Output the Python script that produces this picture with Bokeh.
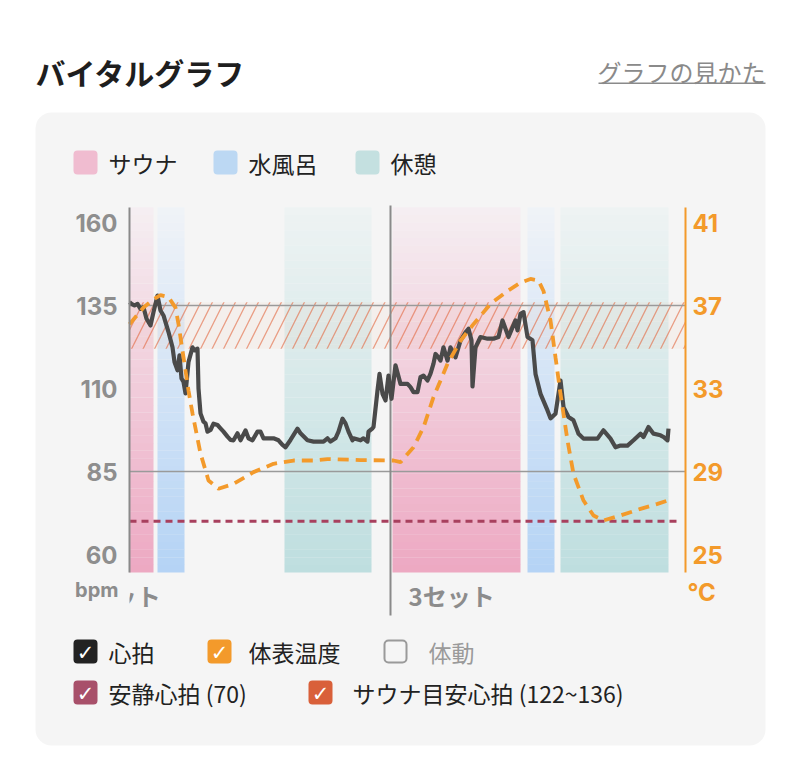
from bokeh.plotting import figure
from bokeh.models import Range1d, LinearAxis, FixedTicker
from bokeh.core.properties import value
from bokeh.embed import file_html
from bokeh.resources import INLINE

# ---------------- data ----------------
hr_min = [0.0, 0.2, 0.5, 0.8, 1.1, 1.4, 1.7, 2.1, 2.4, 2.8, 3.1, 3.4, 3.6, 3.9, 4.3, 4.5, 4.8,
          5.0, 5.2, 5.4, 5.6, 5.9, 6.3, 6.5, 6.8, 6.9, 7.1, 7.4, 7.6, 7.8, 8.1, 8.4, 8.8, 9.1,
          9.4, 9.8, 10.1, 10.4, 10.8, 11.1, 11.6, 11.9, 12.3, 12.8, 13.1, 13.4, 13.8, 14.4,
          14.9, 15.3, 15.6, 16.1, 16.8, 17.1, 17.8, 18.4, 19.4, 19.8, 20.1, 20.6, 20.9, 21.3,
          21.6, 21.9, 22.3, 22.4, 23.1, 23.4, 23.8, 23.9, 24.3, 24.4, 24.8, 25.0, 25.3, 25.6,
          25.9, 26.2, 26.6, 27.1, 27.8, 28.1, 28.4, 28.8, 29.1, 29.4, 29.8, 30.1, 30.4, 30.6,
          30.9, 31.1, 31.4, 31.8, 32.1, 32.6, 33.1, 33.6, 33.9, 34.2, 34.3, 34.6, 35.1, 35.8,
          36.4, 36.9, 37.3, 37.6, 37.9, 38.3, 38.6, 38.8, 39.1, 39.4, 39.8, 40.3, 40.6, 41.1,
          41.8, 42.1, 42.6, 43.1, 43.4, 43.9, 44.4, 44.9, 45.4, 46.8, 47.4, 48.1, 48.6, 49.1,
          49.8, 50.4, 51.1, 51.4, 51.9, 52.4, 53.1, 53.4, 53.8, 53.9]
hr_bpm = [136, 135.5, 135, 135.5, 134, 134.5, 131, 129, 133, 138, 133.5, 132, 130, 127, 122.4,
          118, 115.5, 120, 113, 112, 108.5, 118, 122.4, 121.5, 122, 110, 102.5, 100, 99.5, 97,
          97.5, 99.4, 99, 98, 97, 95.5, 94.5, 94.4, 96.5, 94.4, 97.4, 95, 94.4, 97, 97, 95, 95,
          95, 94.4, 93, 92.3, 94.5, 97.9, 96.5, 94.4, 94, 94, 95, 94, 95, 97, 100.9, 99.5, 97,
          94.4, 95, 94.4, 95, 94, 97, 98, 98.4, 109.4, 114.4, 108.4, 106.4, 113.9, 106.9, 117,
          111.4, 111.4, 110.4, 108.9, 108.9, 113.4, 113.9, 112.4, 114.5, 117.5, 120.4, 119.4,
          118.4, 122.4, 118.4, 122.4, 119.4, 124.4, 126.9, 128, 124.5, 110.6, 122.4, 125.5,
          125, 125, 125.5, 130.5, 128, 125.5, 128.4, 130.5, 127.5, 132.5, 133, 125.5, 124.5,
          114.4, 108.4, 103.4, 101, 102.4, 112.4, 104.4, 101.4, 100.4, 96.4, 94.9, 94.9, 97.4,
          94.9, 92.3, 92.8, 92.8, 94.4, 96.4, 95.4, 98.4, 96.4, 95.9, 95.4, 94.4, 97.9]

temp_min = [0.0, 1.4, 2.4, 3.1, 3.9, 4.6, 4.9, 5.4, 5.9, 6.3, 7.1, 7.9, 8.9, 10.4, 12.4, 14.4,
            16.4, 18.4, 19.8, 23.1, 26.4, 27.1, 28.4, 29.4, 30.4, 31.8, 33.1, 34.4, 36.1, 37.8,
            39.1, 40.1, 40.9, 41.4, 42.1, 42.6, 43.1, 43.8, 44.4, 45.4, 46.4, 47.4, 49.1, 51.1,
            52.8, 53.8]
temp_c = [36.1, 36.9, 37.3, 37.5, 37.4, 36.9, 36.1, 34.5, 32.9, 31.8, 29.87, 28.57, 28.17, 28.4,
          28.97, 29.37, 29.53, 29.53, 29.6, 29.55, 29.53, 29.45, 30.17, 31.13, 32.58, 34.19, 35.3,
          36.1, 37.08, 37.7, 38.1, 38.28, 38.2, 37.7, 36.28, 34.5, 32.74, 30.49, 28.89, 27.6,
          26.88, 26.64, 26.88, 27.2, 27.44, 27.6]

band_kind = ["sauna", "water", "rest", "sauna", "water", "rest"]
band_start = [0.0, 2.8, 15.5, 26.3, 39.8, 43.1]
band_end = [2.4, 5.5, 24.2, 39.1, 42.5, 53.9]

set_start = [-7.3, 26.1]
set_label = ["2セット", "3セット"]

resting_hr = 70
sauna_target = [122, 136]

bpm_ticks = [60, 85, 110, 135, 160]
temp_ticks = [25, 29, 33, 37, 41]
grid_bpm = [85, 135]

phase_names = ["サウナ", "水風呂", "休憩"]
toggle_names = ["心拍", "体表温度", "体動", "安静心拍 (70)", "サウナ目安心拍 (122~136)"]
toggle_on = [True, True, False, True, True]

# ---------------- styling / layout (canvas pixels) ----------------
JP = "Noto Sans CJK JP"
NUM = "Inter"
W, H = 800, 760
CARD = "#f5f5f5"
CHART_L, CHART_R = 129, 685
CHART_TOP, CHART_BOT = 207, 572
DIV_TOP, DIV_BOT = 205, 615
Y_TOP_TICK, Y_BOT_TICK = 222, 554
PX_PER_MIN = 10.0

band_bottom_col = {"sauna": (237, 168, 194), "water": (180, 211, 245), "rest": (190, 222, 223)}
band_top_col = {"sauna": (245, 239, 242), "water": (240, 243, 247), "rest": (238, 243, 243)}
swatch_col = {"sauna": "#f0bcd0", "water": "#bcd8f3", "rest": "#c4e0e0"}

ppb = (Y_BOT_TICK - Y_TOP_TICK) / (bpm_ticks[-1] - bpm_ticks[0])


def bpm_at(py):
    return bpm_ticks[-1] - (py - Y_TOP_TICK) / ppb


def min_at(px):
    return (px - CHART_L) / PX_PER_MIN


def b2t(b):
    return temp_ticks[0] + (b - bpm_ticks[0]) * (temp_ticks[-1] - temp_ticks[0]) / (bpm_ticks[-1] - bpm_ticks[0])


x_lo, x_hi = min_at(0), min_at(W)
y_lo, y_hi = bpm_at(H), bpm_at(0)
cx_lo, cx_hi = min_at(CHART_L), min_at(CHART_R)
band_lo, band_hi = bpm_at(CHART_BOT), bpm_at(CHART_TOP)

p = figure(width=W, height=H, output_backend="svg", toolbar_location=None, title=None,
           x_range=Range1d(x_lo, x_hi), y_range=Range1d(y_lo, y_hi),
           x_axis_location=None, y_axis_location="left",
           min_border_left=0, min_border_right=0, min_border_top=0, min_border_bottom=0)
p.extra_y_ranges = {"temp": Range1d(b2t(y_lo), b2t(y_hi)), "py": Range1d(H, 0)}
p.extra_x_ranges = {"px": Range1d(0, W)}
p.background_fill_color = "white"
p.border_fill_color = "white"
p.outline_line_color = None
p.grid.visible = False


def ptext(xs, ys, texts, size, color, bold=False, align="left", font=JP):
    p.text(x=xs, y=ys, text=texts, x_range_name="px", y_range_name="py",
           text_font=value(font), text_font_size=f"{size}px", text_color=color,
           text_font_style="bold" if bold else "normal", text_align=align,
           text_baseline="middle")


def pbox(x0, y0, x1, y1, fill, line=None, lw=0, r=0):
    p.quad(left=[x0], right=[x1], top=[y0], bottom=[y1], x_range_name="px", y_range_name="py",
           fill_color=fill, line_color=line, line_width=lw, border_radius=r)


# card
pbox(35, 112, 765, 745, CARD, r=16)

# gradient bands (stacked slices)
N = 48
ql, qr, qb, qt, qc = [], [], [], [], []
for kind, s, e in zip(band_kind, band_start, band_end):
    c0 = band_bottom_col[kind]
    c1 = band_top_col[kind]
    for k in range(N):
        f = (k + 0.5) / N
        col = tuple(int(round(c0[i] + (c1[i] - c0[i]) * f)) for i in range(3))
        ql.append(s)
        qr.append(e)
        qb.append(band_lo + (band_hi - band_lo) * k / N)
        qt.append(band_lo + (band_hi - band_lo) * (k + 1) / N + 0.05)
        qc.append("#%02x%02x%02x" % col)
p.quad(left=ql, right=qr, bottom=qb, top=qt, fill_color=qc, line_color=None)

# sauna target band
p.quad(left=[cx_lo], right=[cx_hi], bottom=[sauna_target[0]], top=[sauna_target[1]],
       fill_color="#f3a585", fill_alpha=0.07, line_color=None,
       hatch_pattern="/", hatch_color="#e2653d", hatch_alpha=0.6, hatch_scale=23,
       hatch_weight=1.3)

# guide lines
p.segment(x0=[cx_lo] * len(grid_bpm), x1=[cx_hi] * len(grid_bpm), y0=grid_bpm, y1=grid_bpm,
          line_color="#9a9a9a", line_width=1.5)

# set dividers + labels
d_lo, d_hi = bpm_at(DIV_BOT), bpm_at(DIV_TOP)
vis = [s for s in set_start if cx_lo <= s <= cx_hi]
p.segment(x0=vis, x1=vis, y0=[d_lo] * len(vis), y1=[d_hi] * len(vis),
          line_color="#8a8a8a", line_width=2)
p.text(x=set_start, y=[bpm_at(595)] * len(set_start), text=set_label, x_offset=18,
       text_font=value(JP), text_font_size="24px", text_font_style="bold",
       text_color="#8c8c8c", text_baseline="middle", text_align="left")
# clip area left of the chart (labels scrolled out of view)
pbox(36, 574, CHART_L, 616, CARD)

# resting heart rate
p.segment(x0=[cx_lo], x1=[min_at(678)], y0=[resting_hr], y1=[resting_hr],
          line_color="#a8405e", line_width=3, line_dash="7 5")

# heart rate
p.line(hr_min, hr_bpm, line_color="#4a4a4a", line_width=4.2, line_join="round")

# skin temperature
p.line(temp_min, temp_c, y_range_name="temp", line_color="#f39a2b", line_width=3.8,
       line_dash="11 7")

# axes (fixed at the chart edges)
ya = p.yaxis[0]
ya.fixed_location = cx_lo
ya.ticker = FixedTicker(ticks=bpm_ticks)
ya.bounds = (band_lo, band_hi)
ya.axis_line_color = "#8a8a8a"
ya.axis_line_width = 2
ya.major_tick_line_color = None
ya.minor_tick_line_color = None
ya.major_label_standoff = 6
ya.major_label_text_font = NUM
ya.major_label_text_font_style = "bold"
ya.major_label_text_font_size = "24px"
ya.major_label_text_color = "#8e8e8e"

ra = LinearAxis(y_range_name="temp", ticker=FixedTicker(ticks=temp_ticks),
                bounds=(b2t(band_lo), b2t(band_hi)), fixed_location=cx_hi)
ra.axis_line_color = "#f39a2b"
ra.axis_line_width = 2
ra.major_tick_line_color = None
ra.minor_tick_line_color = None
ra.major_label_standoff = 1
ra.major_label_text_font = NUM
ra.major_label_text_font_style = "bold"
ra.major_label_text_font_size = "24px"
ra.major_label_text_color = "#f39a2b"
p.add_layout(ra, "right")

# header
ptext([35], [71], ["バイタルグラフ"], 30, "#1e1e1e", bold=True)
ptext([765], [71], ["グラフの見かた"], 24, "#8a8a8a", align="right")
pbox(598, 82, 765, 83.5, "#8a8a8a")

# phase legend
for name, kind, X in zip(phase_names, ["sauna", "water", "rest"], [73, 213, 355]):
    pbox(X, 150, X + 24, 174, swatch_col[kind], r=4)
    ptext([X + 35], [162], [name], 23, "#222222")

# axis units
ptext([118], [589], ["bpm"], 20, "#8c8c8c", bold=True, align="right", font=NUM)
ptext([687], [592], ["°C"], 24, "#f39a2b", bold=True, font=NUM)

# toggles
tog_box = [(73, 651), (207, 651), (383, 651), (73, 692), (308, 692)]
tog_text_x = [108, 248, 428, 108, 352]
tog_col = ["#222222", "#f39a2b", "#9a9a9a", "#a8506a", "#d9603a"]
for (X, Y), TX, name, on, col in zip(tog_box, tog_text_x, toggle_names, toggle_on, tog_col):
    if on:
        pbox(X, Y - 12, X + 24, Y + 12, col, r=4)
        ptext([X + 12], [Y + 1], ["✓"], 21, "white", align="center", font="DejaVu Sans")
        ptext([TX], [Y], [name], 23, "#222222")
    else:
        pbox(X + 1, Y - 11, X + 23, Y + 11, CARD, line=col, lw=2, r=4)
        ptext([TX], [Y], [name], 23, "#9a9a9a")

open("out.html", "w").write(file_html(p, INLINE))
